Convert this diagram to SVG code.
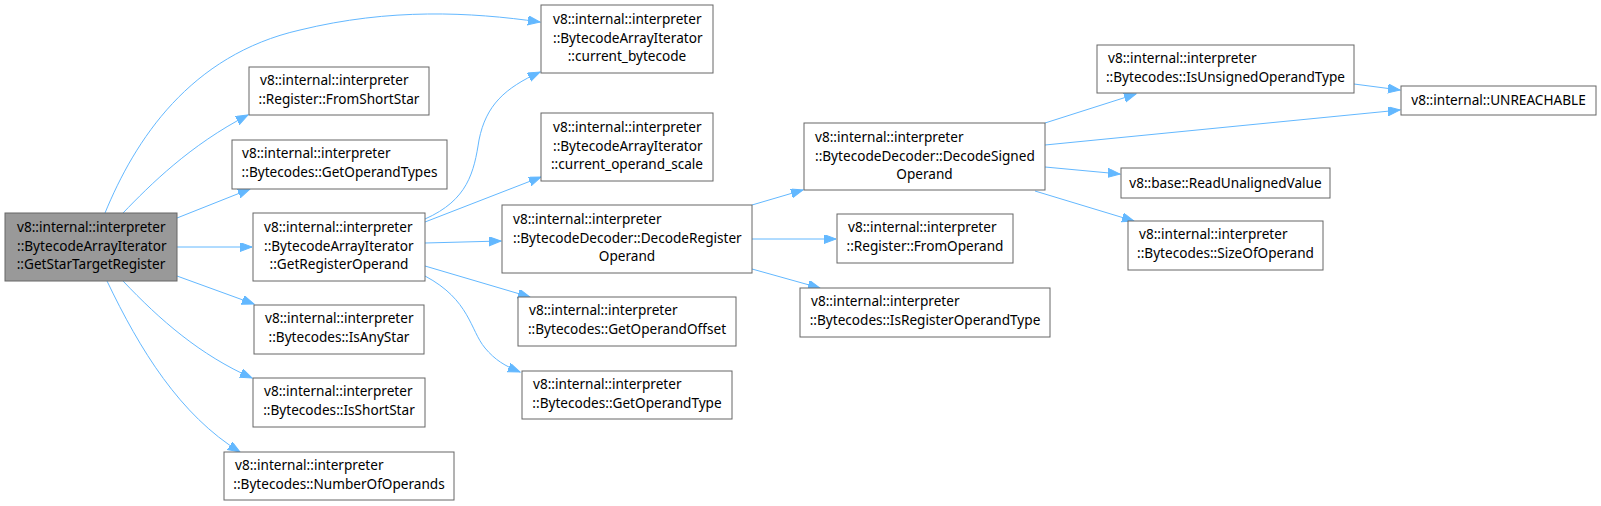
<svg xmlns="http://www.w3.org/2000/svg" width="1601" height="506" viewBox="0 0 1601 506">
<style>
.n rect{fill:#ffffff;stroke:#666666;stroke-width:1}
.m rect{fill:#999999;stroke:#666666;stroke-width:1}
text{font-family:"Noto Sans","DejaVu Sans",sans-serif;font-size:13.6px;fill:#000000}
.s{text-anchor:start}
.c{text-anchor:middle}
.e path{fill:none;stroke:#63b8ff;stroke-width:1;marker-end:url(#ah)}
</style>
<defs>
<marker id="ah" markerUnits="userSpaceOnUse" markerWidth="14" markerHeight="10" refX="12" refY="4.5" orient="auto">
<path d="M0,0 L12,4.5 L0,9 z" fill="#63b8ff" stroke="#63b8ff" stroke-width="1"/>
</marker>
</defs>
<rect width="1601" height="506" fill="#ffffff"/>
<g id="edges" class="e">
<path d="M105,213 C135,140 190,55 300,30 C390,8 470,12 540,22"/>
<path d="M123,213 C150,185 190,145 248,115"/>
<path d="M177,218 L250,189"/>
<path d="M177,247 L252,247"/>
<path d="M177,276 L254,304"/>
<path d="M123,281 C160,320 200,355 252,378"/>
<path d="M107,281 C140,350 180,415 240,452"/>
<path d="M425,219 C468,200 474,172 479,140 C486,105 505,88 540,72"/>
<path d="M425,222 L541,177"/>
<path d="M425,243 L501,241"/>
<path d="M425,266 L530,297"/>
<path d="M425,276 C470,300 470,330 485,348 C495,360 505,366 520,372"/>
<path d="M752,205 L803,190"/>
<path d="M752,239 L836,239"/>
<path d="M752,269 L820,288"/>
<path d="M1045,123 L1136,94"/>
<path d="M1045,145 L1400,110"/>
<path d="M1045,167 L1120,174"/>
<path d="M1035,191 L1134,221"/>
<path d="M1354,84 L1400,90"/>
</g>
<g id="n0" class="m"><rect x="5" y="213" width="172" height="68"/>
<text class="s" x="17" y="232">v8::internal::interpreter</text><text class="s" x="17" y="250.5">::BytecodeArrayIterator</text><text class="c" x="91" y="269">::GetStarTargetRegister</text></g>
<g id="n1" class="n"><rect x="541" y="5" width="172" height="68"/>
<text class="s" x="553" y="24">v8::internal::interpreter</text><text class="s" x="553" y="42.5">::BytecodeArrayIterator</text><text class="c" x="627" y="61">::current_bytecode</text></g>
<g id="n2" class="n"><rect x="249" y="67" width="180" height="48"/>
<text class="s" x="260" y="85">v8::internal::interpreter</text><text class="c" x="339" y="103.5">::Register::FromShortStar</text></g>
<g id="n3" class="n"><rect x="232" y="140" width="215" height="49"/>
<text class="s" x="242" y="158">v8::internal::interpreter</text><text class="c" x="339.5" y="176.5">::Bytecodes::GetOperandTypes</text></g>
<g id="n4" class="n"><rect x="253" y="213" width="172" height="68"/>
<text class="s" x="264" y="232">v8::internal::interpreter</text><text class="s" x="264" y="250.5">::BytecodeArrayIterator</text><text class="c" x="339" y="269">::GetRegisterOperand</text></g>
<g id="n5" class="n"><rect x="254" y="305" width="170" height="49"/>
<text class="s" x="265" y="323">v8::internal::interpreter</text><text class="c" x="339" y="341.5">::Bytecodes::IsAnyStar</text></g>
<g id="n6" class="n"><rect x="253" y="378" width="172" height="49"/>
<text class="s" x="264" y="396">v8::internal::interpreter</text><text class="c" x="339" y="414.5">::Bytecodes::IsShortStar</text></g>
<g id="n7" class="n"><rect x="224" y="452" width="230" height="48"/>
<text class="s" x="235" y="470">v8::internal::interpreter</text><text class="c" x="339" y="488.5">::Bytecodes::NumberOfOperands</text></g>
<g id="n8" class="n"><rect x="541" y="113" width="172" height="68"/>
<text class="s" x="553" y="132">v8::internal::interpreter</text><text class="s" x="553" y="150.5">::BytecodeArrayIterator</text><text class="c" x="627" y="169">::current_operand_scale</text></g>
<g id="n9" class="n"><rect x="502" y="205" width="250" height="68"/>
<text class="s" x="513" y="224">v8::internal::interpreter</text><text class="s" x="513" y="242.5">::BytecodeDecoder::DecodeRegister</text><text class="c" x="627" y="261">Operand</text></g>
<g id="n10" class="n"><rect x="518" y="297" width="218" height="49"/>
<text class="s" x="529" y="315">v8::internal::interpreter</text><text class="c" x="627" y="333.5">::Bytecodes::GetOperandOffset</text></g>
<g id="n11" class="n"><rect x="522" y="371" width="210" height="48"/>
<text class="s" x="533" y="389">v8::internal::interpreter</text><text class="c" x="627" y="407.5">::Bytecodes::GetOperandType</text></g>
<g id="n12" class="n"><rect x="804" y="123" width="241" height="67"/>
<text class="s" x="815" y="142">v8::internal::interpreter</text><text class="s" x="815" y="160.5">::BytecodeDecoder::DecodeSigned</text><text class="c" x="924.5" y="179">Operand</text></g>
<g id="n13" class="n"><rect x="837" y="214" width="176" height="49"/>
<text class="s" x="848" y="232">v8::internal::interpreter</text><text class="c" x="925" y="250.5">::Register::FromOperand</text></g>
<g id="n14" class="n"><rect x="800" y="288" width="250" height="49"/>
<text class="s" x="811" y="306">v8::internal::interpreter</text><text class="c" x="925" y="324.5">::Bytecodes::IsRegisterOperandType</text></g>
<g id="n15" class="n"><rect x="1097" y="45" width="257" height="48"/>
<text class="s" x="1108" y="63">v8::internal::interpreter</text><text class="c" x="1225.5" y="81.5">::Bytecodes::IsUnsignedOperandType</text></g>
<g id="n16" class="n"><rect x="1401" y="86" width="195" height="29"/>
<text class="c" x="1498.5" y="104.5">v8::internal::UNREACHABLE</text></g>
<g id="n17" class="n"><rect x="1121" y="168" width="209" height="30"/>
<text class="c" x="1225.5" y="187.5">v8::base::ReadUnalignedValue</text></g>
<g id="n18" class="n"><rect x="1128" y="221" width="195" height="49"/>
<text class="s" x="1139" y="239">v8::internal::interpreter</text><text class="c" x="1225.5" y="257.5">::Bytecodes::SizeOfOperand</text></g>
</svg>
